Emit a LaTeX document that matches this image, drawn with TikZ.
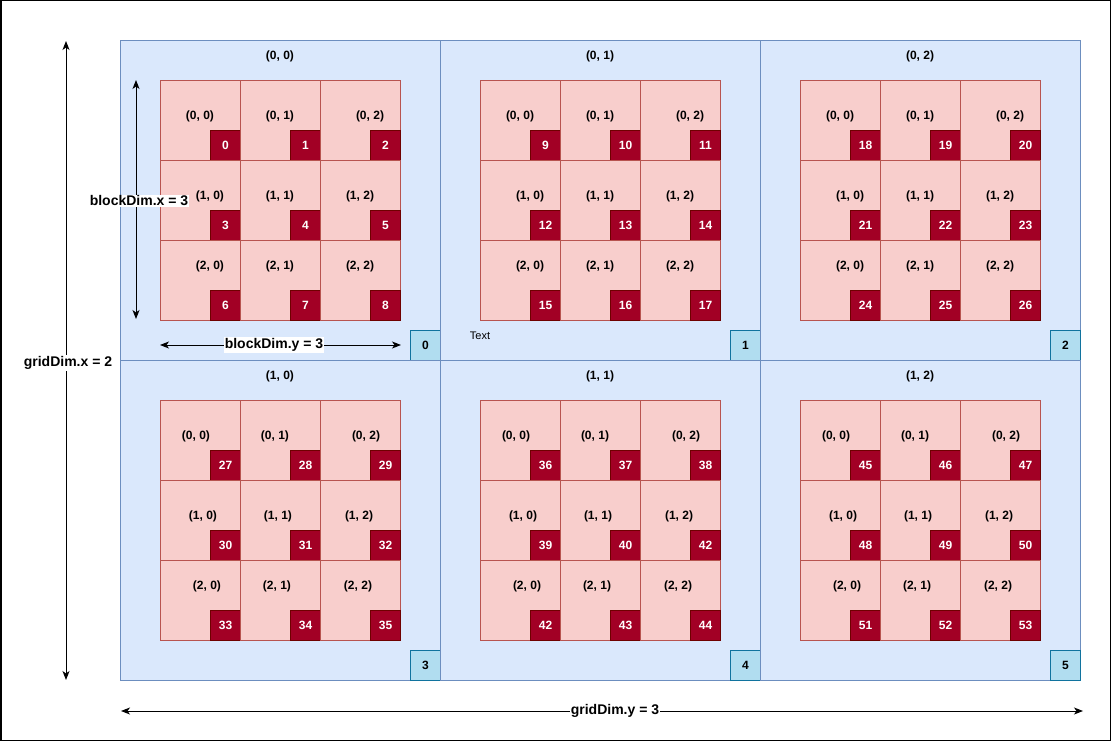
\documentclass[tikz,border=0pt]{standalone}
\usepackage{fontspec}
\setmainfont{Liberation Sans}
\usetikzlibrary{arrows.meta,calc}
\definecolor{blkfill}{HTML}{DAE8FC}
\definecolor{blkdraw}{HTML}{6C8EBF}
\definecolor{cellfill}{HTML}{F8CECC}
\definecolor{celldraw}{HTML}{B85450}
\definecolor{idxfill}{HTML}{A20025}
\definecolor{idxdraw}{HTML}{6F0000}
\definecolor{bidfill}{HTML}{B1DDF0}
\definecolor{biddraw}{HTML}{10739E}
\begin{document}
\begin{tikzpicture}[x=1pt,y=-1pt,
  blockbox/.style={draw=blkdraw,fill=blkfill,line width=1pt,minimum width=320pt,minimum height=320pt,inner sep=0pt,anchor=north west},
  cellbox/.style={draw=celldraw,fill=cellfill,line width=1pt,minimum width=80pt,minimum height=80pt,inner sep=0pt,anchor=north west},
  idxbox/.style={draw=idxdraw,fill=idxfill,line width=1pt,minimum width=30pt,minimum height=30pt,inner sep=0pt,anchor=south east,text=white,font=\bfseries\fontsize{12}{14}\selectfont},
  bidbox/.style={draw=biddraw,fill=bidfill,line width=1pt,minimum width=30pt,minimum height=30pt,inner sep=0pt,anchor=south east,font=\bfseries\fontsize{12}{14}\selectfont},
  lab/.style={inner sep=0pt,font=\bfseries\fontsize{12}{14}\selectfont},
  plainlab/.style={inner sep=0pt,font=\fontsize{11}{13}\selectfont},
  dimarrow/.style={line width=1pt,arrows={Stealth[length=9pt,width=7pt,inset=2.5pt]-Stealth[length=9pt,width=7pt,inset=2.5pt]}},
  dimlab/.style={fill=white,inner sep=1pt,font=\bfseries\fontsize{14}{16}\selectfont}
]
\useasboundingbox (0,0) rectangle (1111,741);
\draw[line width=1.5pt] (0.75,0.75) rectangle (1110.25,740.25);

\foreach \b/\br/\bc/\bx/\by in {0/0/0/120/40,1/0/1/440/40,2/0/2/760/40,3/1/0/120/360,4/1/1/440/360,5/1/2/760/360} {
  \node[blockbox] (blk\b) at (\bx,\by) {};
  \node[lab] (blab\b) at (\bx+160,\by+16) {(\br, \bc)};
  \node[bidbox] (bid\b) at (blk\b.south east) {\b};
  \foreach \r in {0,1,2} {
    \foreach \c in {0,1,2} {
      \node[cellbox] (cell\b-\r-\c) at (\bx+40+80*\c,\by+40+80*\r) {};
      \pgfmathtruncatemacro\n{9*\b+3*\r+\c}
      \ifnum\n=41 \def\n{42}\fi
      \node[idxbox] (idx\b-\r-\c) at (cell\b-\r-\c.south east) {\n};
      \ifnum\by<100
        \pgfmathsetmacro\ox{{40,40,50,50,40,40,50,40,40}[3*\r+\c]}
      \else
        \pgfmathsetmacro\ox{{36,35,46,43,38,39,47,37,38}[3*\r+\c]}
      \fi
      \pgfmathsetmacro\oy{{36,36,36,36,36,36,26,26,26}[3*\r+\c]}
      \node[lab] (lab\b-\r-\c) at ($(cell\b-\r-\c.north west)+(\ox,\oy)$) {(\r, \c)};
    }
  }
}

\node[plainlab] (txt) at (480,336) {Text};

% dimension arrows
\coordinate (gxa) at (66,680);
\coordinate (gxb) at (66,41);
\draw[dimarrow] (gxa) -- (gxb);
\node[dimlab] (gxl) at (68,363) {gridDim.x = 2};

\coordinate (gya) at (121,711);
\coordinate (gyb) at (1083,711);
\draw[dimarrow] (gya) -- (gyb);
\node[dimlab] (gyl) at (615,711) {gridDim.y = 3};

\coordinate (bxa) at (136,80);
\coordinate (bxb) at (136,319);
\draw[dimarrow] (bxa) -- (bxb);
\node[dimlab] (bxl) at (139,201) {blockDim.x = 3};

\coordinate (bya) at (160,345);
\coordinate (byb) at (401,345);
\draw[dimarrow] (bya) -- (byb);
\node[dimlab] (byl) at (274,345) {blockDim.y = 3};
\end{tikzpicture}
\end{document}
